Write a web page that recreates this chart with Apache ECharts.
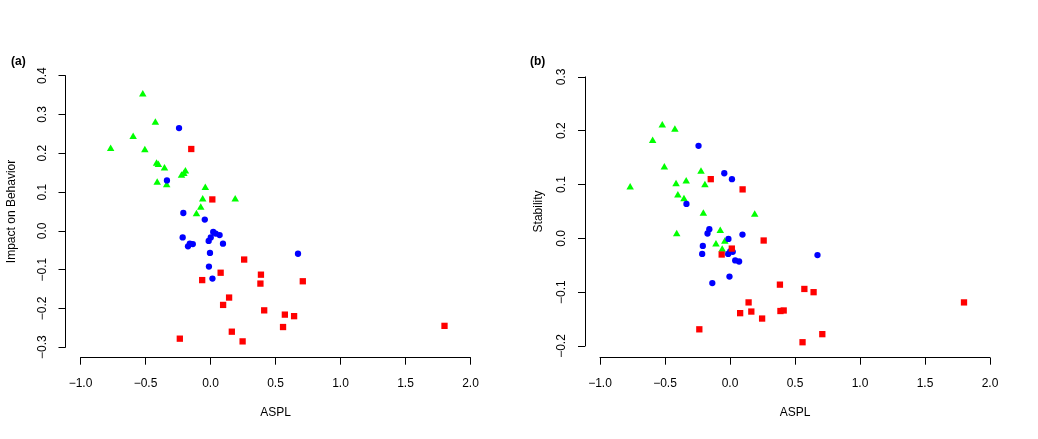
<!DOCTYPE html>
<html>
<head>
<meta charset="utf-8">
<script src="https://cdn.jsdelivr.net/npm/echarts@6/dist/echarts.min.js"></script>
<style>
html,body{margin:0;padding:0;background:#fff;}
#chart{width:1038px;height:439px;}
</style>
</head>
<body>
<div id="chart"></div>
<script>
// ---- data ----
var greenASPL = [-0.768, -0.595, -0.521, -0.505, -0.424, -0.415, -0.410, -0.401, -0.354, -0.337, -0.223, -0.205, -0.193, -0.108, -0.075, -0.060, -0.040, 0.190];
var greenImpact = [0.214, 0.245, 0.355, 0.211, 0.282, 0.176, 0.127, 0.173, 0.164, 0.121, 0.145, 0.150, 0.156, 0.046, 0.063, 0.084, 0.114, 0.084];
var greenStability = [0.097, 0.183, 0.212, 0.134, 0.204, 0.103, 0.010, 0.082, 0.075, 0.108, 0.126, 0.048, 0.101, -0.009, 0.016, -0.019, -0.004, 0.046];

var blueASPL = [-0.335, -0.242, -0.214, -0.209, -0.173, -0.159, -0.136, -0.044, -0.014, -0.012, -0.004, 0.002, 0.015, 0.021, 0.040, 0.070, 0.096, 0.673];
var blueImpact = [0.130, 0.265, -0.017, 0.046, -0.040, -0.033, -0.034, 0.029, -0.026, -0.092, -0.057, -0.017, -0.123, -0.003, -0.007, -0.011, -0.033, -0.059];
var blueStability = [0.064, 0.172, -0.029, -0.014, 0.009, 0.017, -0.083, 0.121, -0.029, -0.001, -0.071, -0.024, 0.110, -0.025, -0.041, -0.043, 0.007, -0.031];

var redASPL = [-0.236, -0.148, -0.064, 0.014, 0.078, 0.097, 0.143, 0.164, 0.247, 0.259, 0.384, 0.388, 0.413, 0.558, 0.572, 0.643, 0.710, 1.800];
var redImpact = [-0.278, 0.211, -0.127, 0.081, -0.108, -0.191, -0.172, -0.260, -0.285, -0.074, -0.136, -0.113, -0.205, -0.248, -0.216, -0.220, -0.130, -0.245];
var redStability = [-0.169, 0.110, -0.030, -0.019, -0.139, 0.091, -0.119, -0.136, -0.149, -0.004, -0.086, -0.135, -0.134, -0.193, -0.094, -0.100, -0.178, -0.119];

var panelTitles = ['(a)', '(b)'];
var xTitle = 'ASPL';
var yTitles = ['Impact on Behavior', 'Stability'];
var xRange = [-1.0, 2.0, 0.5];
var yRangeA = [-0.3, 0.4, 0.1];
var yRangeB = [-0.2, 0.3, 0.1];

// ---- chart ----
var FONT = '"Liberation Sans", Arial, Helvetica, sans-serif';
function zip(xs, ys) { return xs.map(function (x, i) { return [x, ys[i]]; }); }
function fmt(v) { return v.toFixed(1).replace('-', '\u2212'); }

function xAxisOf(gi, offset) {
  return {
    type: 'value', gridIndex: gi, min: xRange[0], max: xRange[1], interval: xRange[2],
    position: 'bottom', offset: offset,
    name: xTitle, nameLocation: 'middle', nameGap: 49,
    nameTextStyle: { color: '#000', fontSize: 12, fontFamily: FONT },
    axisLine: { show: true, onZero: false, lineStyle: { color: '#000', width: 1 } },
    axisTick: { show: true, length: 7, lineStyle: { color: '#000', width: 1 } },
    axisLabel: { color: '#000', fontSize: 12, fontFamily: FONT, margin: 20, formatter: fmt, showMinLabel: true, showMaxLabel: true },
    splitLine: { show: false }
  };
}
function yAxisOf(gi, range, name, offset, gap) {
  return {
    type: 'value', gridIndex: gi, min: range[0], max: range[1], interval: range[2],
    position: 'left', offset: offset,
    name: name, nameLocation: 'middle', nameGap: gap,
    nameTextStyle: { color: '#000', fontSize: 12, fontFamily: FONT },
    axisLine: { show: true, onZero: false, lineStyle: { color: '#000', width: 1 } },
    axisTick: { show: true, length: 7, lineStyle: { color: '#000', width: 1 } },
    axisLabel: { color: '#000', fontSize: 12, fontFamily: FONT, margin: 17, rotate: 90, formatter: fmt, showMinLabel: true, showMaxLabel: true },
    splitLine: { show: false }
  };
}
function scatter(gi, data, color, symbol, size) {
  return {
    type: 'scatter', xAxisIndex: gi, yAxisIndex: gi, data: data,
    symbol: symbol, symbolSize: size, clip: false, silent: true,
    itemStyle: { color: color, opacity: 1 }
  };
}

var chart = echarts.init(document.getElementById('chart'), null, { renderer: 'canvas' });
chart.setOption({
  animation: false,
  backgroundColor: '#fff',
  title: [
    { text: panelTitles[0], left: 6, top: 51, textStyle: { fontSize: 12, fontWeight: 'bold', color: '#000', fontFamily: FONT } },
    { text: panelTitles[1], left: 525, top: 51, textStyle: { fontSize: 12, fontWeight: 'bold', color: '#000', fontFamily: FONT } }
  ],
  grid: [
    { left: 80.5, top: 75.7, width: 390, height: 271.5 },
    { left: 600, top: 76.9, width: 390, height: 269.1 }
  ],
  xAxis: [xAxisOf(0, 10.5), xAxisOf(1, 11.7)],
  yAxis: [yAxisOf(0, yRangeA, yTitles[0], 15, 48), yAxisOf(1, yRangeB, yTitles[1], 15, 40)],
  series: [
    scatter(0, zip(greenASPL, greenImpact), '#00ff00', 'triangle', [7.5, 6.5]),
    scatter(0, zip(blueASPL, blueImpact), '#0000ff', 'circle', 6.3),
    scatter(0, zip(redASPL, redImpact), '#ff0000', 'rect', 6.3),
    scatter(1, zip(greenASPL, greenStability), '#00ff00', 'triangle', [7.5, 6.5]),
    scatter(1, zip(blueASPL, blueStability), '#0000ff', 'circle', 6.3),
    scatter(1, zip(redASPL, redStability), '#ff0000', 'rect', 6.3)
  ]
});
</script>
</body>
</html>
